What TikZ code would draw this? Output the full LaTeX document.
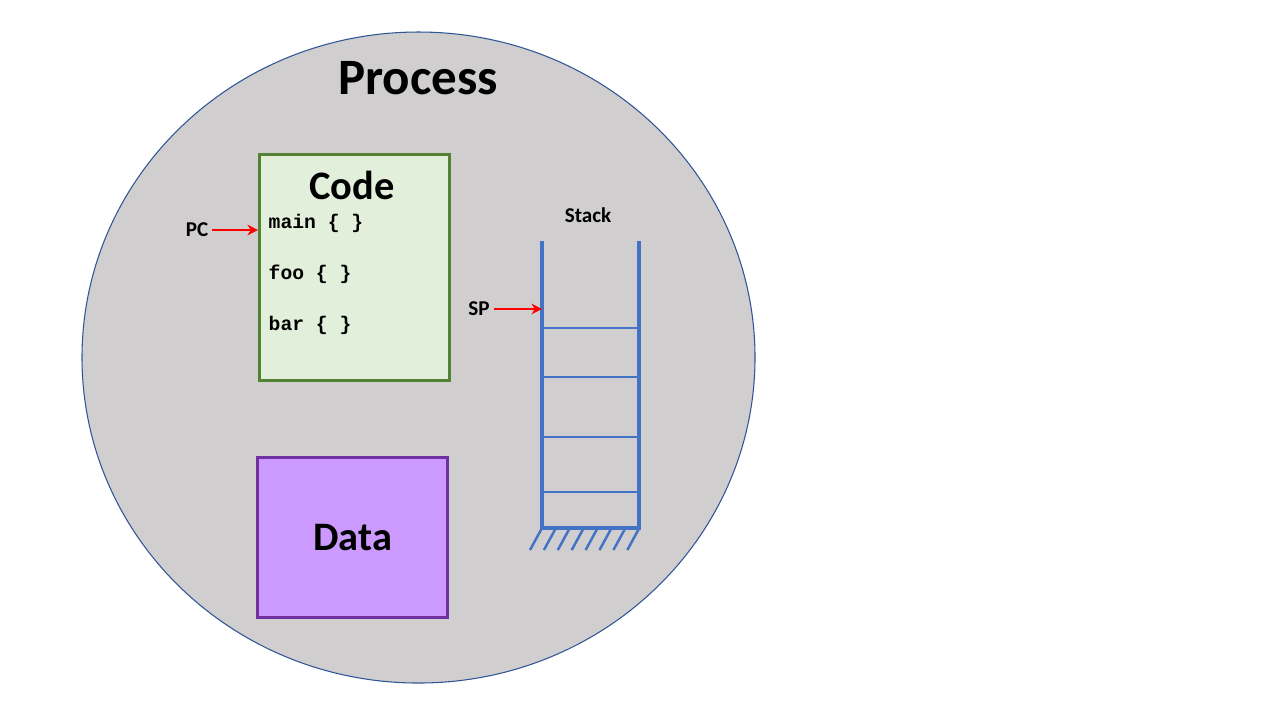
\documentclass[tikz,border=0pt]{standalone}
\usepackage{fontspec}
\setmainfont{Carlito}
\setmonofont{Liberation Mono}
\usetikzlibrary{positioning,arrows.meta}
\definecolor{procgray}{HTML}{D0CECE}
\definecolor{procline}{HTML}{2F5597}
\definecolor{codefill}{HTML}{E2EFDA}
\definecolor{codeline}{HTML}{548235}
\definecolor{datafill}{HTML}{CC99FF}
\definecolor{dataline}{HTML}{7030A0}
\definecolor{stackblue}{HTML}{4472C4}
\begin{document}
\begin{tikzpicture}[x=0.01cm,y=-0.01cm]
	\tikzstyle{codetext}
	  =[font=\ttfamily\bfseries\fontsize{5.6}{6}\selectfont, anchor=west, inner sep=0pt]
	\tikzstyle{label}
	  =[font=\bfseries\fontsize{6}{7}\selectfont, inner sep=1pt]
	\tikzstyle{pointer}
	  =[draw=red, line width=0.7pt, -{Stealth[length=3pt,width=3pt]}]
	\useasboundingbox (0,0) rectangle (1280,720);
	\fill[white] (0,0) rectangle (1280,720);

	\draw[procline, fill=procgray, line width=0.3pt] (418.5,357.5) ellipse [x radius=336.5, y radius=325.5];
	\node[font=\bfseries\fontsize{14.5}{16}\selectfont] (process) at (418,78) {Process};

	\node[draw=codeline, fill=codefill, line width=0.9pt, minimum width=1.9cm, minimum height=2.26cm, anchor=north west] (code)
	  at (258,153) {};
	\node[font=\bfseries\fontsize{11.5}{13}\selectfont] (codetitle) at (352,185) {Code};
	\node[codetext] (main) at (268,223) {main \{ \}};
	\node[codetext] (foo) at (268,274) {foo \{ \}};
	\node[codetext] (bar) at (268,325) {bar \{ \}};
	\node[label] (pc) at (197,230) {PC};
	\draw[pointer] (pc.east) -- (pc.east -| code.west);

	\node[draw=dataline, fill=datafill, line width=0.9pt, minimum width=1.9cm, minimum height=1.6cm, anchor=north west] (data)
	  at (256,456) {};
	\node[font=\bfseries\fontsize{11.5}{13}\selectfont] at (data.center) {Data};

	% stack
	\coordinate (stl) at (542,241);
	\coordinate (str) at (639,241);
	\coordinate (sbl) at (542,528);
	\coordinate (sbr) at (639,528);
	\draw[stackblue, line width=0.9pt] (stl) -- (sbl) -- (sbr) -- (str);
	\foreach \y in {328,377,437,492}
	  \draw[stackblue, line width=0.4pt] (542,\y) -- (639,\y);
	\foreach \i in {0,...,7}
	  \draw[stackblue, line width=0.7pt] (542+\i*13.9,528) -- (530+\i*13.9,550);
	\node[label] (stack) at (588,215) {Stack};
	\node[label] (sp) at (479,309) {SP};
	\draw[pointer] (sp.east) -- (sp.east -| sbl);
\end{tikzpicture}
\end{document}
